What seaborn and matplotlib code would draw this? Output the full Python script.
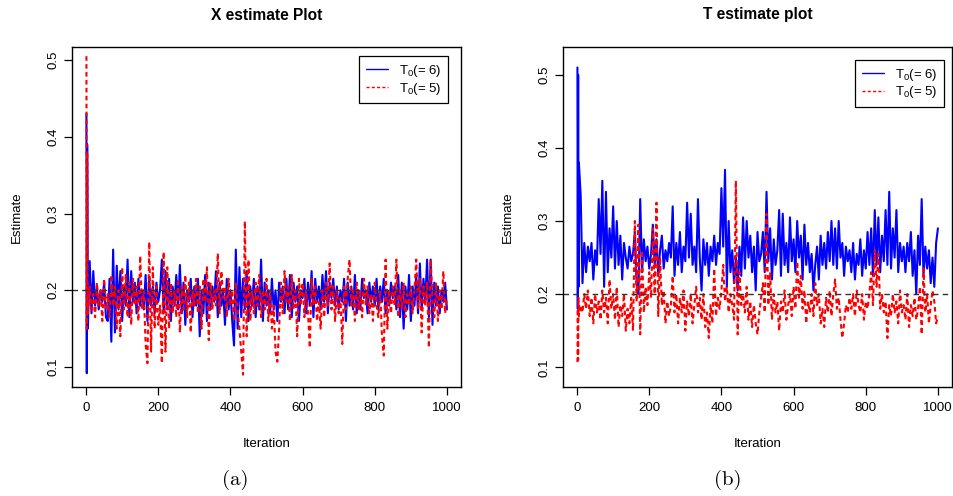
import matplotlib
matplotlib.use("Agg")
import matplotlib.pyplot as plt
import seaborn as sns

# iteration index of each stored sample (first five kept, then every 5th)
iters = [1, 2, 3, 4, 5] + list(range(10, 1001, 5))

# X estimate, T0 = 6 and T0 = 5
x_t6 = [0.430, 0.092, 0.390, 0.300, 0.150,
        0.238, 0.170, 0.225, 0.180, 0.205, 0.175, 0.200, 0.185, 0.210, 0.165,
        0.160, 0.215, 0.133, 0.253, 0.145, 0.232, 0.175, 0.225, 0.160, 0.205,
        0.180, 0.240, 0.165, 0.225, 0.185, 0.210, 0.170, 0.215, 0.180, 0.200,
        0.175, 0.220, 0.160, 0.215, 0.180, 0.205, 0.170, 0.210, 0.185, 0.200,
        0.240, 0.170, 0.225, 0.175, 0.215, 0.160, 0.205, 0.180, 0.220, 0.175,
        0.233, 0.170, 0.210, 0.155, 0.200, 0.185, 0.215, 0.165, 0.205, 0.180,
        0.215, 0.140, 0.200, 0.170, 0.220, 0.160, 0.210, 0.175, 0.205, 0.185,
        0.225, 0.165, 0.210, 0.180, 0.200, 0.155, 0.215, 0.175, 0.200, 0.160,
        0.128, 0.253, 0.150, 0.230, 0.165, 0.215, 0.175, 0.225, 0.160, 0.205,
        0.180, 0.215, 0.165, 0.205, 0.175, 0.240, 0.160, 0.210, 0.180, 0.200,
        0.170, 0.215, 0.175, 0.200, 0.160, 0.210, 0.185, 0.205, 0.170, 0.215,
        0.175, 0.220, 0.165, 0.210, 0.185, 0.205, 0.160, 0.200, 0.190, 0.215,
        0.170, 0.210, 0.180, 0.225, 0.165, 0.215, 0.185, 0.205, 0.175, 0.220,
        0.185, 0.225, 0.170, 0.210, 0.190, 0.215, 0.180, 0.205, 0.175, 0.200,
        0.185, 0.215, 0.160, 0.210, 0.180, 0.205, 0.175, 0.220, 0.170, 0.200,
        0.175, 0.215, 0.190, 0.200, 0.170, 0.210, 0.185, 0.205, 0.180, 0.215,
        0.175, 0.205, 0.185, 0.215, 0.170, 0.200, 0.180, 0.210, 0.190, 0.205,
        0.175, 0.220, 0.165, 0.210, 0.150, 0.205, 0.175, 0.220, 0.160, 0.205,
        0.180, 0.220, 0.170, 0.235, 0.175, 0.215, 0.185, 0.240, 0.165, 0.240,
        0.155, 0.210, 0.180, 0.205, 0.170, 0.200, 0.185, 0.210, 0.175]

x_t5 = [0.505, 0.150, 0.380, 0.220, 0.170,
        0.205, 0.175, 0.195, 0.165, 0.210, 0.180, 0.200, 0.160, 0.215, 0.175,
        0.195, 0.165, 0.220, 0.180, 0.205, 0.150, 0.200, 0.140, 0.230, 0.175,
        0.220, 0.165, 0.210, 0.155, 0.215, 0.180, 0.205, 0.160, 0.245, 0.175,
        0.200, 0.130, 0.105, 0.263, 0.120, 0.230, 0.150, 0.205, 0.155, 0.180,
        0.105, 0.250, 0.120, 0.230, 0.150, 0.210, 0.170, 0.200, 0.165, 0.215,
        0.145, 0.205, 0.175, 0.220, 0.165, 0.210, 0.145, 0.200, 0.180, 0.215,
        0.170, 0.205, 0.150, 0.215, 0.185, 0.230, 0.135, 0.210, 0.175, 0.200,
        0.180, 0.248, 0.170, 0.225, 0.190, 0.205, 0.165, 0.215, 0.180, 0.200,
        0.160, 0.210, 0.175, 0.150, 0.120, 0.090, 0.290, 0.140, 0.240, 0.160,
        0.200, 0.170, 0.210, 0.180, 0.220, 0.165, 0.200, 0.175, 0.215, 0.160,
        0.200, 0.150, 0.180, 0.120, 0.107, 0.150, 0.210, 0.170, 0.225, 0.185,
        0.205, 0.160, 0.220, 0.175, 0.200, 0.140, 0.215, 0.180, 0.210, 0.165,
        0.200, 0.170, 0.125, 0.215, 0.180, 0.205, 0.160, 0.185, 0.150, 0.200,
        0.165, 0.210, 0.180, 0.235, 0.175, 0.205, 0.160, 0.200, 0.170, 0.190,
        0.130, 0.205, 0.175, 0.215, 0.240, 0.180, 0.200, 0.160, 0.210, 0.175,
        0.200, 0.165, 0.215, 0.180, 0.205, 0.170, 0.195, 0.160, 0.210, 0.180,
        0.165, 0.200, 0.140, 0.115, 0.240, 0.150, 0.200, 0.170, 0.205, 0.180,
        0.240, 0.165, 0.200, 0.175, 0.210, 0.165, 0.195, 0.180, 0.205, 0.170,
        0.200, 0.240, 0.175, 0.215, 0.145, 0.205, 0.180, 0.210, 0.125, 0.240,
        0.185, 0.165, 0.210, 0.160, 0.200, 0.175, 0.225, 0.170, 0.190]

# T estimate, T0 = 6 and T0 = 5
t_t6 = [0.510, 0.180, 0.500, 0.210, 0.380,
        0.335, 0.215, 0.270, 0.230, 0.265, 0.245, 0.270, 0.220, 0.260, 0.240,
        0.330, 0.255, 0.355, 0.210, 0.340, 0.230, 0.290, 0.250, 0.320, 0.235,
        0.300, 0.240, 0.280, 0.220, 0.270, 0.250, 0.235, 0.265, 0.245, 0.255,
        0.285, 0.215, 0.200, 0.330, 0.230, 0.275, 0.245, 0.265, 0.235, 0.255,
        0.295, 0.240, 0.275, 0.225, 0.260, 0.280, 0.235, 0.260, 0.245, 0.270,
        0.250, 0.320, 0.225, 0.270, 0.240, 0.285, 0.230, 0.265, 0.245, 0.325,
        0.250, 0.310, 0.240, 0.265, 0.230, 0.330, 0.250, 0.205, 0.275, 0.240,
        0.270, 0.225, 0.265, 0.245, 0.280, 0.240, 0.270, 0.255, 0.345, 0.265,
        0.370, 0.210, 0.300, 0.230, 0.260, 0.215, 0.250, 0.205, 0.265, 0.225,
        0.305, 0.235, 0.300, 0.250, 0.280, 0.230, 0.265, 0.205, 0.285, 0.245,
        0.255, 0.285, 0.230, 0.340, 0.245, 0.290, 0.220, 0.275, 0.240, 0.260,
        0.315, 0.225, 0.310, 0.240, 0.270, 0.230, 0.305, 0.245, 0.275, 0.230,
        0.300, 0.250, 0.280, 0.220, 0.295, 0.240, 0.270, 0.230, 0.255, 0.205,
        0.240, 0.265, 0.220, 0.280, 0.240, 0.270, 0.235, 0.285, 0.245, 0.300,
        0.240, 0.290, 0.235, 0.300, 0.250, 0.270, 0.225, 0.265, 0.245, 0.260,
        0.230, 0.270, 0.220, 0.255, 0.240, 0.275, 0.225, 0.260, 0.235, 0.285,
        0.240, 0.290, 0.225, 0.315, 0.240, 0.305, 0.230, 0.280, 0.245, 0.315,
        0.240, 0.340, 0.235, 0.290, 0.250, 0.315, 0.230, 0.270, 0.245, 0.265,
        0.230, 0.270, 0.245, 0.285, 0.225, 0.260, 0.200, 0.280, 0.240, 0.330,
        0.225, 0.265, 0.235, 0.260, 0.215, 0.250, 0.210, 0.270, 0.290]

t_t5 = [0.107, 0.180, 0.110, 0.195, 0.170,
        0.185, 0.175, 0.200, 0.180, 0.205, 0.170, 0.195, 0.160, 0.200, 0.175,
        0.190, 0.165, 0.205, 0.175, 0.195, 0.160, 0.220, 0.180, 0.200, 0.165,
        0.210, 0.155, 0.185, 0.170, 0.200, 0.150, 0.180, 0.160, 0.195, 0.150,
        0.300, 0.190, 0.295, 0.145, 0.260, 0.175, 0.210, 0.185, 0.230, 0.195,
        0.290, 0.200, 0.325, 0.170, 0.250, 0.185, 0.205, 0.160, 0.190, 0.170,
        0.185, 0.225, 0.175, 0.200, 0.160, 0.195, 0.175, 0.205, 0.150, 0.190,
        0.170, 0.200, 0.160, 0.185, 0.210, 0.175, 0.195, 0.165, 0.200, 0.155,
        0.175, 0.140, 0.185, 0.160, 0.235, 0.170, 0.195, 0.180, 0.205, 0.240,
        0.190, 0.210, 0.175, 0.200, 0.185, 0.165, 0.355, 0.145, 0.230, 0.185,
        0.200, 0.175, 0.210, 0.165, 0.190, 0.155, 0.185, 0.160, 0.145, 0.175,
        0.195, 0.215, 0.175, 0.310, 0.185, 0.230, 0.165, 0.200, 0.175, 0.190,
        0.150, 0.190, 0.175, 0.205, 0.165, 0.185, 0.200, 0.170, 0.210, 0.180,
        0.245, 0.195, 0.225, 0.180, 0.205, 0.160, 0.190, 0.175, 0.200, 0.170,
        0.215, 0.185, 0.200, 0.160, 0.180, 0.155, 0.195, 0.175, 0.205, 0.170,
        0.200, 0.220, 0.180, 0.195, 0.165, 0.140, 0.160, 0.185, 0.175, 0.195,
        0.180, 0.200, 0.170, 0.205, 0.185, 0.175, 0.200, 0.165, 0.190, 0.180,
        0.200, 0.230, 0.185, 0.260, 0.210, 0.255, 0.180, 0.200, 0.175, 0.190,
        0.140, 0.185, 0.170, 0.200, 0.175, 0.190, 0.160, 0.205, 0.175, 0.185,
        0.165, 0.200, 0.155, 0.185, 0.170, 0.195, 0.165, 0.180, 0.210, 0.145,
        0.235, 0.175, 0.200, 0.160, 0.185, 0.205, 0.190, 0.160, 0.170]

true_value = 0.2
x_ticks = [0, 200, 400, 600, 800, 1000]
y_ticks = [0.1, 0.2, 0.3, 0.4, 0.5]
labels = [r"T$_0$(= 6)", r"T$_0$(= 5)"]

sns.set_style("ticks", {"axes.edgecolor": "black", "xtick.color": "black",
                        "ytick.color": "black", "text.color": "black",
                        "axes.labelcolor": "black"})
plt.rcParams["font.family"] = ["Liberation Sans", "DejaVu Sans"]
plt.rcParams["mathtext.fontset"] = "custom"
plt.rcParams["mathtext.rm"] = "Liberation Sans"
plt.rcParams["mathtext.it"] = "Liberation Sans"

W, H = 954, 496
fig = plt.figure(figsize=(W / 100, H / 100), dpi=100)

panels = [
    dict(box=(72, 47, 461, 387), t6=x_t6, t5=x_t5, ylim=(0.074, 0.517),
         title="X estimate Plot", ylab_x=17, cap="(a)", cap_x=235,
         leg=(0.9666, 0.9735)),
    dict(box=(563, 47, 952, 387), t6=t_t6, t5=t_t5, ylim=(0.073, 0.538),
         title="T estimate plot", ylab_x=508, cap="(b)", cap_x=728,
         leg=(0.979, 0.962)),
]

for p in panels:
    l, t, r, b = p["box"]
    ax = fig.add_axes([l / W, 1 - b / H, (r - l) / W, (b - t) / H])
    sns.lineplot(x=iters, y=p["t6"], ax=ax, color="blue", lw=1.5, label=labels[0])
    sns.lineplot(x=iters, y=p["t5"], ax=ax, color="red", lw=1.5,
                 linestyle=(0, (2.2, 1.6)), label=labels[1])
    ax.axhline(true_value, color="#333333", lw=1, linestyle=(0, (4, 3)))
    ax.set_xlim(-39, 1039)
    ax.set_ylim(*p["ylim"])
    ax.set_xticks(x_ticks)
    ax.set_yticks(y_ticks)
    ax.set_yticklabels([str(v) for v in y_ticks], rotation=90, va="center")
    ax.tick_params(length=6, width=0.9, labelsize=9.5, pad=3)
    ax.tick_params(axis="x", pad=5)
    for s in ax.spines.values():
        s.set_visible(True)
        s.set_linewidth(1)
    ax.set_xlabel("")
    ax.set_ylabel("")
    leg = ax.legend(loc="upper right", bbox_to_anchor=p["leg"], fancybox=False,
                    edgecolor="black", framealpha=1, fontsize=9.5,
                    borderpad=0.5, handlelength=1.7, handletextpad=0.8,
                    labelspacing=0.15, borderaxespad=0)
    leg.get_frame().set_linewidth(0.9)
    for ln in leg.get_lines():
        ln.set_linewidth(1)

    cx = (l + r) / 2
    fig.text(cx / W, 1 - 15 / H, p["title"], ha="center", va="center",
             fontsize=11.2, fontweight="bold")
    fig.text(cx / W, 1 - 444 / H, "Iteration", ha="center", va="center",
             fontsize=9.5)
    fig.text(p["ylab_x"] / W, 1 - 217 / H, "Estimate", ha="center",
             va="center", rotation=90, fontsize=9.5)
    fig.text(p["cap_x"] / W, 1 - 480 / H, p["cap"], ha="center", va="center",
             fontsize=15, family=["cmr10", "DejaVu Serif"])

fig.savefig("out.png", dpi=100)
